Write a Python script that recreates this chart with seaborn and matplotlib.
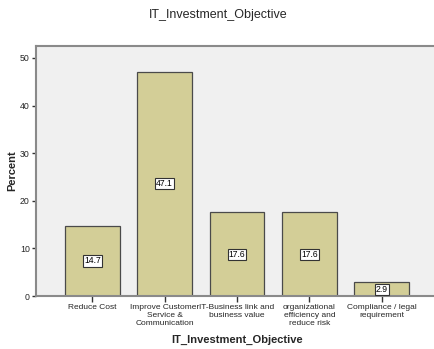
import matplotlib
matplotlib.use("Agg")
import matplotlib.pyplot as plt
import seaborn as sns
import pandas as pd

categories = ["Reduce Cost",
              "Improve Customer\nService &\nCommunication",
              "IT-Business link and\nbusiness value",
              "organizational\nefficiency and\nreduce risk",
              "Compliance / legal\nrequirement"]
percent = [14.7, 47.1, 17.6, 17.6, 2.9]
yticks = [0, 10, 20, 30, 40, 50]

sns.set_theme(style="white")
plt.rcParams['font.family'] = ['Liberation Sans', 'DejaVu Sans']

df = pd.DataFrame({"cat": categories, "pct": percent})

fig = plt.figure(figsize=(4.34, 3.49), dpi=100)
fig.patch.set_facecolor("white")
ax = fig.add_axes([36/434, 53/349, 402/434, 250.5/349])
ax.set_facecolor("#F0F0F0")

sns.barplot(data=df, x="cat", y="pct", ax=ax, color="#D3CE97", saturation=1,
            width=0.755, edgecolor="#4a4a4a", linewidth=0.9)

ax.set_xlim(-0.778, 4.778)
ax.set_ylim(0, 52.6)
ax.set_yticks(yticks)
ax.set_yticklabels([str(v) for v in yticks], fontsize=6.3)
ax.set_xticks(range(len(categories)))
ax.set_xticklabels(categories, fontsize=6.0, linespacing=1.12)
ax.tick_params(axis="x", length=4, width=1, color="#333333", pad=2, bottom=True)
ax.tick_params(axis="y", length=3, width=1, color="#333333", pad=1.5, left=True)

for side in ["left", "bottom", "top"]:
    ax.spines[side].set_visible(True)
    ax.spines[side].set_color("#8a8a8a")
    ax.spines[side].set_linewidth(1.5)
ax.spines["right"].set_visible(False)

for cont in ax.containers:
    ax.bar_label(cont, labels=[f"{v:.1f}" for v in percent], label_type="center",
                 fontsize=6.2, color="black",
                 bbox=dict(boxstyle="square,pad=0.12", fc="white", ec="#333333", lw=0.8))

ax.set_xlabel("IT_Investment_Objective", fontsize=8, fontweight="bold", va="center")
ax.xaxis.set_label_coords(0.5, (296 - 340) / 250.5)
ax.set_ylabel("Percent", fontsize=8, fontweight="bold", va="center")
ax.yaxis.set_label_coords((12 - 36) / 402, 0.5)

fig.text(218 / 434, 1 - 15 / 349, "IT_Investment_Objective", ha="center", va="center",
         fontsize=9)

fig.savefig("out.png", dpi=100)
